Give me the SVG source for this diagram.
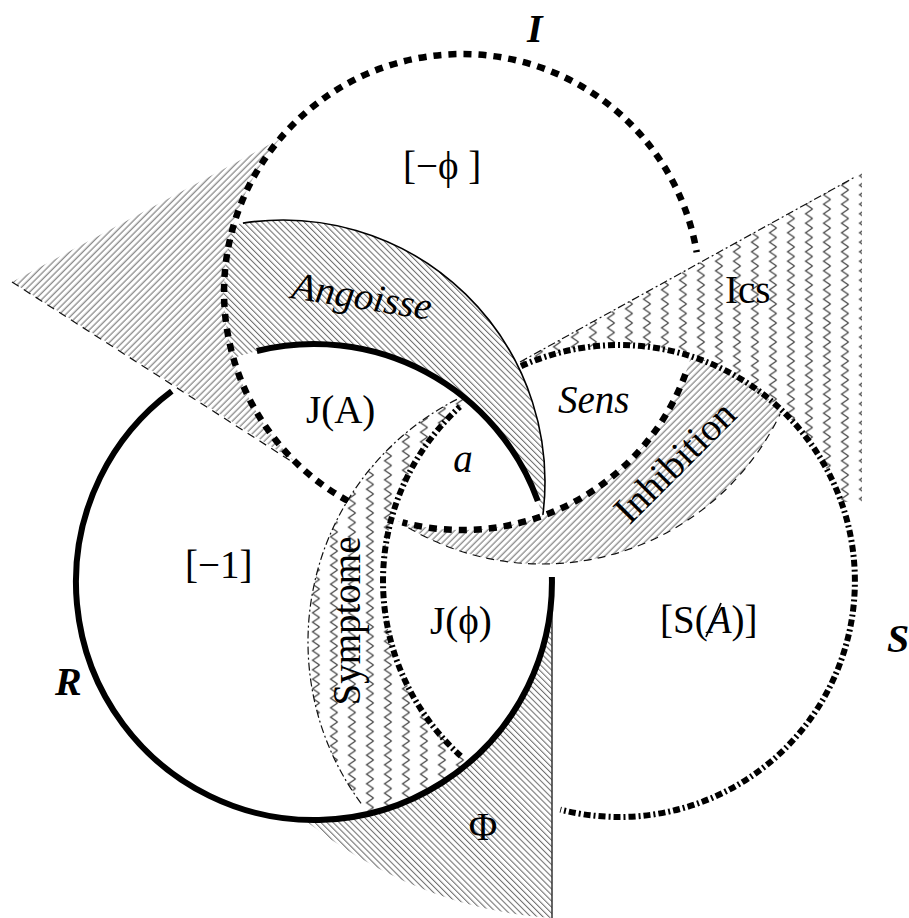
<svg xmlns="http://www.w3.org/2000/svg" width="909" height="918" viewBox="0 0 909 918">
<style>
.t{font-family:"Liberation Serif","Times New Roman",serif;font-size:39px;fill:#000}
.it{font-style:italic}
.big{font-size:40px;font-weight:bold;font-style:italic}
.ringI{fill:none;stroke:#000;stroke-width:6.5;stroke-dasharray:8 7}
.ringR{fill:none;stroke:#000;stroke-width:6}
.ringS{fill:none;stroke:#000;stroke-width:6;stroke-dasharray:7 3 2 3}
.thin{fill:none;stroke:#000;stroke-width:1.6}
.dash{fill:none;stroke:#111;stroke-width:1.2;stroke-dasharray:8 6}
.dashdot{fill:none;stroke:#111;stroke-width:1.2;stroke-dasharray:8 3 2 3}
</style>
<defs>
<pattern id="hU" width="4.6" height="4.6" patternUnits="userSpaceOnUse" patternTransform="rotate(-45)"><line x1="-1" y1="2" x2="6" y2="2" stroke="#333" stroke-width="0.75"/></pattern>
<pattern id="hD" width="4.3" height="4.3" patternUnits="userSpaceOnUse" patternTransform="rotate(45)"><line x1="-1" y1="2" x2="6" y2="2" stroke="#333" stroke-width="0.75"/></pattern>
<pattern id="zzI" x="7.5" width="18" height="9.5" patternUnits="userSpaceOnUse"><polyline points="13,0 6,4.75 13,9.5" fill="none" stroke="#222" stroke-width="1"/></pattern>
<pattern id="zzS" x="0.5" width="18" height="9.5" patternUnits="userSpaceOnUse"><polyline points="13,0 6,4.75 13,9.5" fill="none" stroke="#222" stroke-width="1"/></pattern>
<clipPath id="cR"><circle cx="314" cy="582" r="238"/></clipPath>
<clipPath id="cS"><circle cx="619" cy="581" r="236"/></clipPath>
<clipPath id="cI"><circle cx="462" cy="292" r="238"/></clipPath>
<clipPath id="cA"><circle cx="283" cy="482" r="262"/></clipPath>
<clipPath id="cSym"><circle cx="580" cy="642" r="272"/></clipPath>
<clipPath id="cD"><circle cx="542" cy="300" r="264"/></clipPath>
<clipPath id="cIcs"><path d="M520 362 L862 173 L862 502 L520 502Z"/></clipPath>
</defs>
<rect width="909" height="918" fill="#fff"/>

<g id="fields">
  <g id="field-wedge"><path d="M12 282 L279.7 139 A238 238 0 0 0 294.6 461.2 Z" fill="url(#hU)"/></g>
  <g id="field-angoisse" clip-path="url(#cA)"><g clip-path="url(#cI)"><path d="M0 0H909V918H0Z M76 582a238 238 0 1 0 476 0a238 238 0 1 0 -476 0Z" fill-rule="evenodd" fill="url(#hD)"/></g></g>
  <g id="field-symptome" clip-path="url(#cSym)"><g clip-path="url(#cR)"><path d="M0 0H909V918H0Z M383 581a236 236 0 1 0 472 0a236 236 0 1 0 -472 0Z" fill-rule="evenodd" fill="url(#zzS)"/></g></g>
  <g id="field-inhibition" clip-path="url(#cS)"><g clip-path="url(#cD)"><path d="M0 0H909V918H0Z M224 292a238 238 0 1 0 476 0a238 238 0 1 0 -476 0Z" fill-rule="evenodd" fill="url(#hU)"/></g></g>
  <g id="field-ics" clip-path="url(#cIcs)"><path d="M0 0H909V918H0Z M383 581a236 236 0 1 0 472 0a236 236 0 1 0 -472 0Z" fill-rule="evenodd" fill="url(#zzI)"/></g>
  <g id="field-phi"><path d="M305.7 821 Q420 910 552 918 L552 582 A238 238 0 0 1 305.7 819.9 Z" fill="url(#hD)"/></g>
</g>

<g id="connectors">
  <path class="dash" d="M12 282 L294 463"/>
  <path class="dashdot" d="M520 362 L855 177"/>
  <path class="thin" d="M242.9 223.1 A262 262 0 0 1 542.9 514.8"/>
  <path class="dashdot" d="M456.9 399.4 A272 272 0 0 0 362.2 804.9"/>
  <path class="dash" d="M408.4 527.7 A264 264 0 0 0 780.1 414.1"/>
  <path d="M552 582 V918" fill="none" stroke="#333" stroke-width="1.5"/>
</g>

<g id="ring-I">
  <path class="ringI" d="M685.4 374.2 A238 238 0 0 1 402.4 522.4"/>
  <path class="ringI" d="M348.1 501 A238 238 0 1 1 696.7 252.3"/>
  <text class="t big" x="527" y="42">I</text>
</g>
<g id="ring-S">
  <path class="ringS" d="M460.8 756.1 A236 236 0 0 1 459.9 406.7"/>
  <path class="ringS" d="M521.1 366.2 A236 236 0 1 1 560.3 809.6"/>
  <text class="t big" x="887" y="652">S</text>
</g>
<g id="ring-R">
  <path class="ringR" d="M256.8 351 A238 238 0 0 1 537.8 501"/>
  <path class="ringR" d="M551.9 577 A238 238 0 1 1 171.8 391.2"/>
  <text class="t big" x="55" y="695">R</text>
</g>

<g id="labels">
  <g id="lbl-minus-phi"><text class="t" x="403" y="179">[−ϕ ]</text></g>
  <g id="lbl-angoisse"><text class="t it" text-anchor="middle" transform="translate(360 309) rotate(9)">Angoisse</text></g>
  <g id="lbl-JA"><text class="t" x="306" y="423">J(A)</text></g>
  <g id="lbl-a"><text class="t it" x="463" y="472" text-anchor="middle">a</text></g>
  <g id="lbl-sens"><text class="t it" x="558" y="413">Sens</text></g>
  <g id="lbl-ics"><text class="t" x="725" y="303">Ics</text></g>
  <g id="lbl-inhibition"><text class="t" text-anchor="middle" transform="translate(684 471) rotate(-45)">Inhibition</text></g>
  <g id="lbl-minus-1"><text class="t" x="185" y="578">[−1]</text></g>
  <g id="lbl-symptome"><text class="t" text-anchor="middle" transform="translate(360 621) rotate(-90)">Symptome</text></g>
  <g id="lbl-Jphi"><text class="t" x="430" y="634">J(ϕ)</text></g>
  <g id="lbl-SA"><text class="t" x="660" y="633">[S(<tspan class="it">A</tspan>)]</text><line x1="706" y1="637" x2="721" y2="603" stroke="#000" stroke-width="1.8"/></g>
  <g id="lbl-Phi"><text class="t" x="483" y="840" text-anchor="middle">Φ</text></g>
</g>
</svg>
